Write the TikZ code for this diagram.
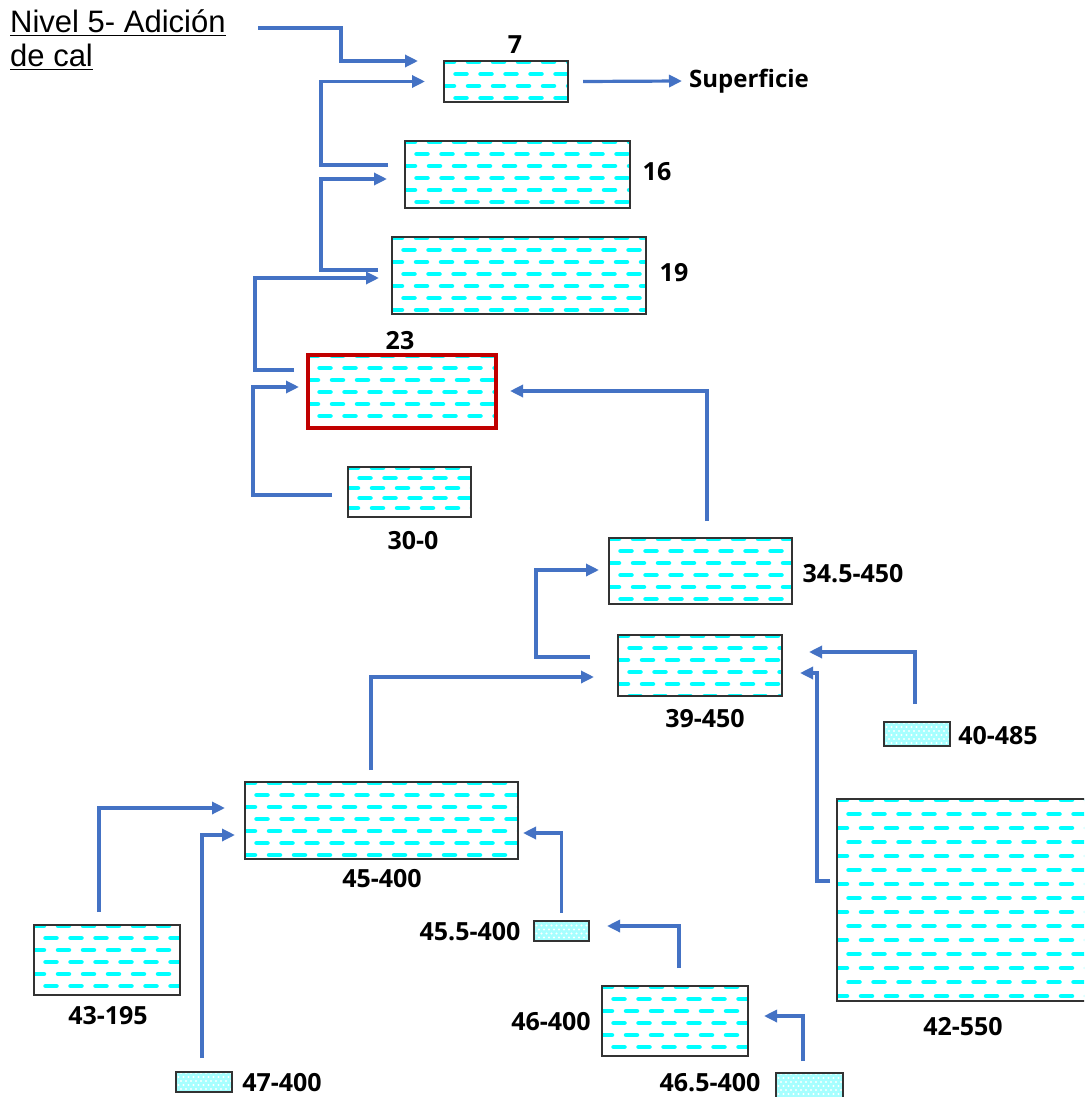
\documentclass[tikz,border=0pt]{standalone}
\usepackage{fontspec}
\newfontfamily\lblf{Open Sans}
\newfontfamily\arialf{Liberation Sans}
\usetikzlibrary{arrows.meta,calc}
\definecolor{flowblue}{HTML}{4472C4}
\definecolor{boxred}{HTML}{C00000}
\definecolor{water}{HTML}{00FFFF}
\tikzset{
  wbox/.style={draw=black!80, line width=2pt, fill=white, inner sep=0pt, outer sep=0pt,
    path picture={
      \foreach \k in {0,...,18}{
        \pgfmathsetmacro\ph{mod(\k,2)*12.5}
        \draw[water, line width=4.5pt, line cap=round, dash pattern=on 11pt off 14pt, dash phase=\ph pt]
          ($(path picture bounding box.north west)+(-1pt,-\k*#1pt-1pt)$) -- ++(420pt,0pt);
      }}},
  wbox/.default=12,
  dbox/.style={draw=black!80, line width=2pt, fill=water!35, inner sep=0pt, outer sep=0pt,
    path picture={
      \foreach \i in {0,...,18}{\foreach \j in {0,...,7}{
        \pgfmathsetmacro\off{mod(\j,2)*2.5}
        \fill[white] ($(path picture bounding box.north west)+(\i*5pt+\off pt,-\j*4pt-1pt)$) circle (1.1pt);
      }}}},
  lbl/.style={font=\lblf\bfseries\fontsize{25}{30}\selectfont, inner sep=0pt},
  flow/.style={draw=flowblue, line width=3.2pt, -{Triangle[length=13pt,width=12pt]}},
}
\begin{document}
\begin{tikzpicture}[x=1pt,y=-1pt]
\useasboundingbox (0,0) rectangle (1084,1097);
\clip (0,0) rectangle (1084,1097);
\fill[white] (0,0) rectangle (1084,1097);

% title
\node[anchor=base west, inner sep=0pt, font=\arialf\fontsize{31}{34}\selectfont] (nivelA) at (10,33) {\underline{Nivel 5- Adición}};
\node[anchor=base west, inner sep=0pt, font=\arialf\fontsize{31}{34}\selectfont] (nivelB) at (10,67) {\underline{de cal}};
\coordinate (n0) at (258,28);

% boxes
\node[wbox, minimum width=124pt, minimum height=41pt] (b7) at (506,81.5) {};
\node[wbox, minimum width=225pt, minimum height=67pt] (b16) at (517.5,174.5) {};
\node[wbox, minimum width=254pt, minimum height=77pt] (b19) at (519,275.5) {};
\node[wbox, draw=boxred, line width=4pt, minimum width=188pt, minimum height=73pt] (b23) at (402,391.5) {};
\node[wbox=10, minimum width=123pt, minimum height=50pt] (b30) at (409.5,492) {};
\node[wbox, minimum width=183pt, minimum height=66pt] (b345) at (700.5,571) {};
\node[wbox, minimum width=164pt, minimum height=61pt] (b39) at (700,665.5) {};
\node[dbox, minimum width=66pt, minimum height=24pt] (s40) at (917,734) {};
\node[wbox=14, minimum width=253pt, minimum height=202pt] (b42) at (963.5,900) {};
\node[wbox, minimum width=273pt, minimum height=77pt] (b45) at (381.5,820.5) {};
\node[wbox, minimum width=146pt, minimum height=70pt] (b43) at (107,960) {};
\node[dbox, minimum width=55pt, minimum height=20pt] (s455) at (561.5,930.5) {};
\node[wbox, minimum width=146pt, minimum height=70pt] (b46) at (675,1021) {};
\node[dbox, minimum width=67pt, minimum height=30pt] (s465) at (809.5,1088) {};
\node[dbox, minimum width=56pt, minimum height=20pt] (s47) at (204,1082) {};

% labels
\node[lbl] (l7) at (515,45) {7};
\node[lbl, font=\lblf\bfseries\fontsize{24}{28}\selectfont, anchor=west] (sup) at (689,81) {Superficie};
\node[lbl] (l16) at (657,172) {16};
\node[lbl] (l19) at (674,273) {19};
\node[lbl] (l23) at (400,341) {23};
\node[lbl] (l30) at (413,541) {30-0};
\node[lbl] (l345) at (853,574) {34.5-450};
\node[lbl] (l39) at (705,719) {39-450};
\node[lbl] (l40) at (998,736) {40-485};
\node[lbl] (l42) at (963,1027) {42-550};
\node[lbl] (l45) at (382,879) {45-400};
\node[lbl] (l43) at (108,1016) {43-195};
\node[lbl] (l455) at (470,932) {45.5-400};
\node[lbl] (l46) at (551,1022) {46-400};
\node[lbl] (l465) at (710,1083) {46.5-400};
\node[lbl] (l47) at (282,1083) {47-400};

% connectors
\draw[flow] (n0) -- ++(83,0) |- ([shift={(-26,-20.5)}]b7.west);
\draw[flow] ([shift={(15,0)}]b7.east) -- ([shift={(-7,0)}]sup.west);
\draw[flow] ([shift={(-17,-9.5)}]b16.west) -- ++(-67,0) |- ([shift={(-19,0)}]b7.west);
\draw[flow] ([shift={(-14,-5.5)}]b19.west) -- ++(-57,0) |- ([shift={(-18,4.5)}]b16.west);
\draw[flow] ([shift={(-14,-21.5)}]b23.west) -- ++(-39,0) |- ([shift={(-13,2.5)}]b19.west);
\draw[flow] ([shift={(-16,3)}]b30.west) -- ++(-79,0) |- ([shift={(-9,-4.5)}]b23.west);
\draw[flow] ([shift={(6.5,-17)}]b345.north) |- ([shift={(14,-0.5)}]b23.east);
\draw[flow] ([shift={(-28,-8.5)}]b39.west) -- ++(-54,0) |- ([shift={(-10,-1)}]b345.west);
\draw[flow] ([shift={(-10.5,-12)}]b45.north) |- ([shift={(-24,11.5)}]b39.west);
\draw[flow] ([shift={(-2,-18)}]s40.north) |- ([shift={(27,-13.5)}]b39.east);
\draw[flow] ([shift={(-7,-19)}]b42.west) -- ++(-13,0) |- ([shift={(18,7.5)}]b39.east);
\draw[flow] ([shift={(-8,-13)}]b43.north) |- ([shift={(-20,-12.5)}]b45.west);
\draw[flow] ([shift={(-2,-14)}]s47.north) |- ([shift={(-10,14.5)}]b45.west);
\draw[flow] ([shift={(0,-8)}]s455.north) |- ([shift={(5,12.5)}]b45.east);
\draw[flow] ([shift={(4,-18)}]b46.north) |- ([shift={(18,-4.5)}]s455.east);
\draw[flow] ([shift={(-6.5,-12)}]s465.north) |- ([shift={(16,-5)}]b46.east);
\end{tikzpicture}
\end{document}
